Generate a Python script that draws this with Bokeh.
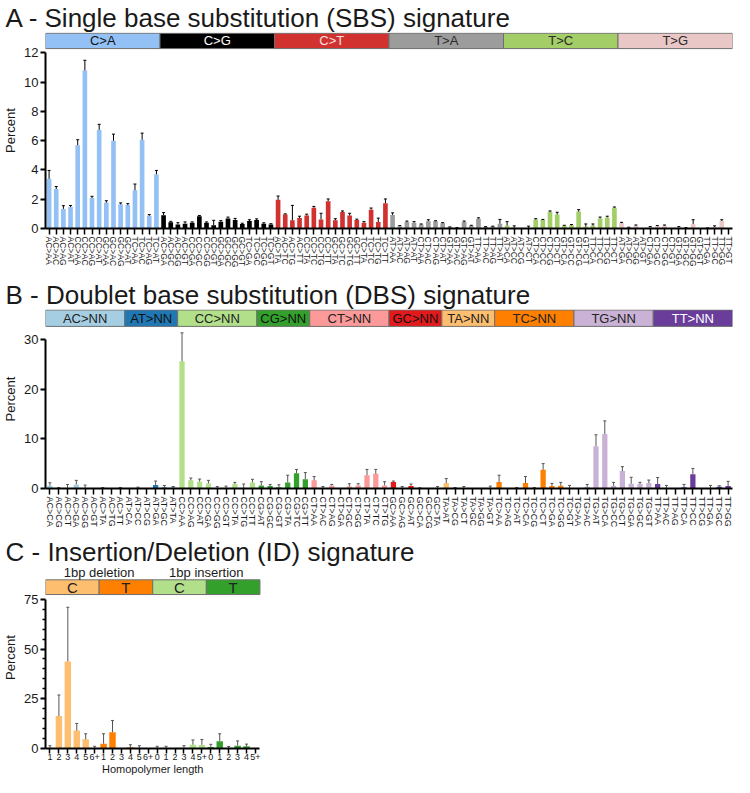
import numpy as np
from bokeh.plotting import figure
from bokeh.models import (ColumnDataSource, Range1d, FixedTicker, Whisker, TeeHead, LabelSet,
                          LinearAxis)
from bokeh.layouts import column
from bokeh.embed import file_html
from bokeh.resources import INLINE
from bokeh.core.properties import value, field

FONT = "Liberation Sans"
FIG_W = 734
LEFT = 40
RIGHT = 2

# ---------------- A: SBS ----------------
sbs_groups = ["C>A", "C>G", "C>T", "T>A", "T>C", "T>G"]
sbs_counts = [16, 16, 16, 16, 16, 16]
sbs_colors = ["#93c1f6", "#000000", "#d1312f", "#9c9c9c", "#a3cd67", "#e9c7c7"]
sbs_text_colors = ["#111111", "#ffffff", "#f6e0e0", "#2a2a2a", "#2a2a2a", "#2a2a2a"]
flank = ["A", "C", "G", "T"]
sbs_labels = [f"{l}{g[0]}>{g[2]}{r}" for g in sbs_groups for l in flank for r in flank]
sbs_values = [3.4, 2.7, 1.34, 1.47, 5.69, 10.8, 2.08, 6.74, 1.76, 6.0, 1.65, 1.6, 2.61, 6.07, 0.87, 3.7,
              0.91, 0.42, 0.27, 0.33, 0.4, 0.83, 0.4, 0.22, 0.47, 0.69, 0.58, 0.31, 0.51, 0.58, 0.33, 0.27,
              1.96, 0.96, 0.56, 0.71, 0.89, 1.42, 0.62, 1.87, 0.56, 1.13, 0.89, 0.58, 0.4, 1.29, 0.44, 1.73,
              0.93, 0.16, 0.44, 0.4, 0.27, 0.49, 0.49, 0.36, 0.09, 0.04, 0.44, 0.18, 0.67, 0.11, 0.13, 0.33,
              0.2, 0.07, 0.0, 0.04, 0.62, 0.58, 1.13, 0.96, 0.18, 0.22, 1.16, 0.13, 0.2, 0.69, 0.76, 1.42,
              0.36, 0.07, 0.18, 0.0, 0.09, 0.16, 0.2, 0.0, 0.09, 0.04, 0.31, 0.0, 0.02, 0.11, 0.51, 0.0]
sbs_sd = [0.57, 0.17, 0.22, 0.1, 0.38, 0.7, 0.12, 0.38, 0.14, 0.45, 0.1, 0.1, 0.43, 0.45, 0.08, 0.27,
          0.18, 0.07, 0.13, 0.12, 0.05, 0.06, 0.05, 0.34, 0.07, 0.09, 0.11, 0.05, 0.09, 0.08, 0.06, 0.06,
          0.26, 0.04, 1.02, 0.13, 0.09, 0.09, 0.42, 0.15, 0.11, 0.07, 0.15, 0.06, 0.07, 0.11, 0.27, 0.29,
          0.14, 0.04, 0.07, 0.07, 0.04, 0.11, 0.04, 0.04, 0.02, 0.02, 0.07, 0.04, 0.06, 0.02, 0.03, 0.29,
          0.27, 0.11, 0.0, 0.12, 0.05, 0.04, 0.07, 0.15, 0.04, 0.05, 0.13, 0.18, 0.11, 0.09, 0.08, 0.05,
          0.06, 0.02, 0.06, 0.0, 0.04, 0.04, 0.04, 0.0, 0.04, 0.02, 0.29, 0.0, 0.02, 0.07, 0.09, 0.0]
sbs_yticks = [0, 2, 4, 6, 8, 10, 12]

# ---------------- B: DBS ----------------
dbs_groups = ["AC>NN", "AT>NN", "CC>NN", "CG>NN", "CT>NN", "GC>NN", "TA>NN", "TC>NN", "TG>NN", "TT>NN"]
dbs_counts = [9, 6, 9, 6, 9, 6, 6, 9, 9, 9]
dbs_colors = ["#a6cee3", "#1f78b4", "#b2df8a", "#33a02c", "#fb9a99", "#e31a1c", "#fdbf6f", "#ff7f00", "#cab2d6", "#6a3d9a"]
dbs_text_colors = ["#222222", "#111111", "#222222", "#111111", "#222222", "#111111", "#222222", "#222222", "#222222", "#ffffff"]
dbs_labels = ["AC>CA", "AC>CG", "AC>CT", "AC>GA", "AC>GG", "AC>GT", "AC>TA", "AC>TG", "AC>TT",
              "AT>CA", "AT>CC", "AT>CG", "AT>GA", "AT>GC", "AT>TA",
              "CC>AA", "CC>AG", "CC>AT", "CC>GA", "CC>GG", "CC>GT", "CC>TA", "CC>TG", "CC>TT",
              "CG>AT", "CG>GC", "CG>GT", "CG>TA", "CG>TC", "CG>TT",
              "CT>AA", "CT>AC", "CT>AG", "CT>GA", "CT>GC", "CT>GG", "CT>TA", "CT>TC", "CT>TG",
              "GC>AA", "GC>AG", "GC>AT", "GC>CA", "GC>CG", "GC>TA",
              "TA>AT", "TA>CG", "TA>CT", "TA>GC", "TA>GG", "TA>GT",
              "TC>AA", "TC>AG", "TC>AT", "TC>CA", "TC>CG", "TC>CT", "TC>GA", "TC>GG", "TC>GT",
              "TG>AA", "TG>AC", "TG>AT", "TG>CA", "TG>CC", "TG>CT", "TG>GA", "TG>GC", "TG>GT",
              "TT>AA", "TT>AC", "TT>AG", "TT>CA", "TT>CC", "TT>CG", "TT>GA", "TT>GC", "TT>GG"]
dbs_values = [0.55, 0.0, 0.1, 0.82, 0.0, 0.0, 0.0, 0.0, 0.0,
              0.0, 0.0, 0.0, 0.68, 0.2, 0.14,
              25.6, 1.64, 1.37, 1.03, 0.0, 0.0, 0.9, 0.1, 1.23,
              0.62, 0.48, 0.27, 1.23, 3.08, 1.85,
              1.64, 0.1, 0.55, 0.0, 0.4, 0.62, 2.67, 2.95, 0.62,
              1.3, 0.0, 0.48, 0.05, 0.0, 0.0,
              1.1, 0.0, 0.0, 0.0, 0.0, 0.0,
              1.3, 0.0, 0.0, 1.1, 0.05, 3.77, 0.48, 0.55, 0.0,
              0.0, 0.34, 8.5, 10.96, 0.55, 3.5, 0.96, 0.9, 1.1,
              0.9, 0.0, 0.0, 0.27, 2.88, 0.0, 0.0, 0.34, 0.48]
dbs_sd = [0.6, 0.2, 0.7, 0.82, 0.68, 0.0, 0.2, 0.0, 0.2,
          0.0, 0.27, 0.0, 0.82, 0.4, 0.26,
          5.7, 0.46, 0.53, 0.61, 0.4, 0.48, 0.33, 0.8, 0.62,
          0.75, 0.34, 0.48, 1.44, 0.76, 1.35,
          0.76, 0.3, 0.27, 0.0, 0.56, 0.34, 1.17, 0.89, 0.75,
          0.2, 0.4, 0.42, 0.1, 0.0, 0.4,
          0.9, 0.2, 0.4, 0.0, 0.0, 0.48,
          1.37, 0.0, 0.2, 1.3, 0.15, 1.23, 0.55, 0.68, 0.62,
          0.0, 0.48, 2.3, 2.64, 0.68, 0.9, 1.3, 0.33, 0.6,
          1.3, 0.62, 0.0, 0.55, 1.16, 0.0, 0.62, 0.21, 0.96]
dbs_yticks = [0, 10, 20, 30]

# ---------------- C: ID ----------------
id_super = ["1bp deletion", "1bp insertion"]
id_groups = ["C", "T", "C", "T"]
id_counts = [6, 6, 6, 6]
id_colors = ["#fdbf6f", "#ff7f00", "#b2df8a", "#33a02c"]
id_text_colors = ["#222222", "#222222", "#222222", "#222222"]
id_labels = ["1", "2", "3", "4", "5", "6+", "1", "2", "3", "4", "5", "6+",
             "0", "1", "2", "3", "4", "5+", "0", "1", "2", "3", "4", "5+"]
id_values = [0.0, 16.3, 43.8, 9.0, 4.6, 0.0,
             2.4, 8.2, 0.0, 0.6, 0.2, 0.0,
             0.0, 0.0, 0.0, 0.0, 1.9, 1.8,
             0.8, 3.7, 0.0, 1.4, 1.1, 0.0]
id_sd = [1.4, 10.6, 27.2, 3.6, 2.8, 1.1,
         5.0, 5.9, 0.0, 1.3, 1.2, 0.0,
         1.1, 1.1, 0.0, 1.4, 2.4, 2.7,
         1.3, 3.7, 1.0, 2.4, 1.1, 0.0]
id_yticks = [0, 25, 50, 75]
id_minor = [5, 10, 15, 20, 30, 35, 40, 45, 55, 60, 65, 70]
id_xlabel = "Homopolymer length"

FRAME_W = FIG_W - LEFT - RIGHT
ID_FRAME_W = 216  # pixel width the ID panel occupies within the shared frame width


def base_fig(title, n, y_end, height, top, bottom, x_end=None):
    p = figure(width=FIG_W, height=height, output_backend="svg", toolbar_location=None,
               x_range=Range1d(-0.5, (n - 0.5) if x_end is None else x_end),
               y_range=Range1d(0, y_end),
               min_border_left=LEFT, min_border_right=RIGHT, min_border_top=top,
               min_border_bottom=bottom)
    p.title.text = title
    p.title.text_font = FONT
    p.title.text_font_size = "26px"
    p.title.text_font_style = "normal"
    p.title.text_color = "#1a1a1a"
    p.title.align = "left"
    p.title.offset = -LEFT
    p.title.standoff = 0
    p.xgrid.visible = False
    p.ygrid.visible = False
    p.outline_line_color = None
    return p


def add_bars(p, values, sds, counts, colors, width, err_color, cap):
    bar_colors = [c for c, k in zip(colors, counts) for _ in range(k)]
    x = list(range(len(values)))
    p.vbar(x=x, top=values, width=width, fill_color=bar_colors, line_color=None)
    ex = [i for i in x if sds[i] > 0]
    src = ColumnDataSource(dict(x=ex, lower=[values[i] for i in ex],
                                upper=[values[i] + sds[i] for i in ex]))
    w = Whisker(source=src, base="x", lower="lower", upper="upper", line_color=err_color,
                line_width=1, upper_head=TeeHead(size=cap, line_color=err_color, line_width=1),
                lower_head=None, level="glyph")
    p.add_layout(w)


def add_header(p, groups, counts, colors, tcolors, lo, hi, fsize):
    starts = np.cumsum([0] + counts[:-1])
    ends = starts + np.array(counts)
    src = ColumnDataSource(dict(l=starts - 0.5, r=ends - 0.5, c=colors,
                                xm=(starts + ends - 1) / 2.0, ym=[(lo + hi) / 2.0] * len(groups),
                                t=groups, tc=tcolors))
    p.quad(left="l", right="r", bottom=lo, top=hi, fill_color="c", line_color="#6f6f6f",
           line_width=1, source=src)
    p.add_layout(LabelSet(x="xm", y="ym", text="t", source=src, text_align="center",
                          text_baseline="middle", text_color=field("tc"),
                          text_font=value(FONT), text_font_size=fsize))


def style_axes(p, labels, yticks, ybound, xfont, vertical, minor=None):
    xa = p.xaxis[0]
    ya = p.yaxis[0]
    for ax in (xa, ya):
        ax.axis_line_width = 2
        ax.axis_line_color = "black"
        ax.major_tick_line_color = "black"
        ax.major_tick_in = 0
        ax.major_label_text_font = FONT
        ax.major_label_text_color = "#1a1a1a"
        ax.axis_label_text_font = FONT
        ax.axis_label_text_font_style = "normal"
        ax.axis_label_text_color = "#1a1a1a"
    xa.ticker = FixedTicker(ticks=list(range(len(labels))))
    xa.major_label_overrides = {i: lab for i, lab in enumerate(labels)}
    xa.major_label_text_font_size = xfont
    xa.major_tick_out = 6
    xa.major_tick_line_width = 1.5
    xa.minor_tick_line_color = None
    xa.major_label_standoff = 2
    xa.bounds = (-0.5, len(labels) - 0.5)
    if vertical:
        xa.major_label_orientation = "vertical"
    ya.ticker = FixedTicker(ticks=yticks, minor_ticks=minor or [])
    ya.bounds = (0, ybound)
    ya.major_tick_out = 5
    ya.major_tick_line_width = 2
    ya.major_label_text_font_size = "13px"
    ya.major_label_standoff = 2
    ya.axis_label = "Percent"
    ya.axis_label_text_font_size = "13px"
    ya.axis_label_standoff = 3
    if minor:
        ya.minor_tick_out = 3
        ya.minor_tick_in = 0
        ya.minor_tick_line_width = 1.5
        ya.minor_tick_line_color = "black"
    else:
        ya.minor_tick_line_color = None


# ---- Panel A
pa = base_fig("A - Single base substitution (SBS) signature", len(sbs_values), 13.4, 274, 28, 46)
add_header(pa, sbs_groups, sbs_counts, sbs_colors, sbs_text_colors, 12.3, 13.35, "13px")
add_bars(pa, sbs_values, sbs_sd, sbs_counts, sbs_colors, 0.65, "#000000", 3)
style_axes(pa, sbs_labels, sbs_yticks, 12, "8.5px", True)

# ---- Panel B
pb = base_fig("B - Doublet base substitution (DBS) signature", len(dbs_values), 36.0, 260, 35, 46)
add_header(pb, dbs_groups, dbs_counts, dbs_colors, dbs_text_colors, 32.6, 35.9, "13px")
add_bars(pb, dbs_values, dbs_sd, dbs_counts, dbs_colors, 0.6, "#555555", 3)
style_axes(pb, dbs_labels, dbs_yticks, 30, "9px", True)

# ---- Panel C
n_id = len(id_values)
pc = base_fig("C - Insertion/Deletion (ID) signature", n_id, 91.5, 243, 28, 20,
              x_end=-0.5 + n_id * FRAME_W / ID_FRAME_W)
add_header(pc, id_groups, id_counts, id_colors, id_text_colors, 77.4, 84.8, "15px")
sup_src = ColumnDataSource(dict(x=[5.5, 17.5], y=[88.6, 88.6], t=id_super))
pc.add_layout(LabelSet(x="x", y="y", text="t", source=sup_src, text_align="center",
                       text_baseline="middle", text_color="#1a1a1a", text_font=value(FONT),
                       text_font_size="13px"))
add_bars(pc, id_values, id_sd, id_counts, id_colors, 0.72, "#555555", 3)
style_axes(pc, id_labels, id_yticks, 75, "9px", False, id_minor)
pc.xaxis[0].major_tick_out = 5
pc.xaxis[0].major_label_standoff = 0
# the axis title, centred under the ID categories
title_axis = LinearAxis(ticker=FixedTicker(ticks=[(n_id - 1) / 2.0]),
                        major_label_overrides={(n_id - 1) / 2.0: id_xlabel},
                        axis_line_color=None, major_tick_line_color=None,
                        major_tick_out=0, major_tick_in=0,
                        minor_tick_line_color=None, minor_tick_out=0, minor_tick_in=0,
                        major_label_standoff=0,
                        major_label_text_font=FONT, major_label_text_font_size="11px",
                        major_label_text_color="#1a1a1a")
pc.add_layout(title_axis, "below")

layout = column(pa, pb, pc, spacing=0)
open("out.html", "w").write(file_html(layout, INLINE))
